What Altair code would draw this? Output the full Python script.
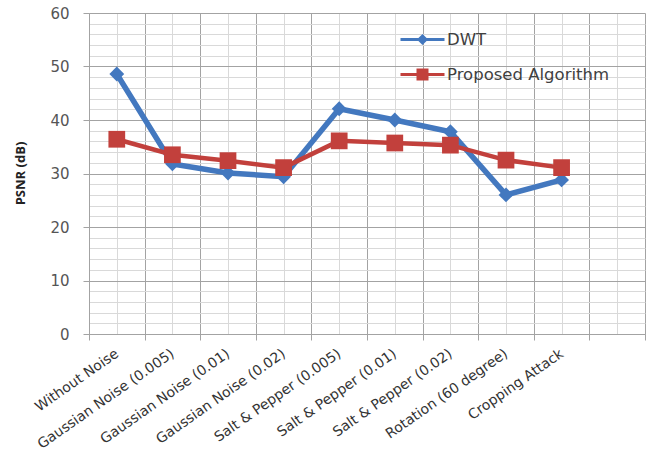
import json
import altair as alt
import pandas as pd

categories = [
    "Without Noise",
    "Gaussian Noise (0.005)",
    "Gaussian Noise (0.01)",
    "Gaussian Noise (0.02)",
    "Salt & Pepper (0.005)",
    "Salt & Pepper (0.01)",
    "Salt & Pepper (0.02)",
    "Rotation (60 degree)",
    "Cropping Attack",
]
dwt = [48.6, 31.8, 30.1, 29.4, 42.1, 40.0, 37.8, 26.0, 28.8]
proposed = [36.4, 33.5, 32.4, 31.1, 36.1, 35.7, 35.3, 32.5, 31.1]
series_names = ["DWT", "Proposed Algorithm"]
series_colors = ["#4378BF", "#C2403C"]
y_ticks = list(range(0, 61, 2))
x_ticks = [i * 0.5 for i in range(21)]

pos = [i + 0.5 for i in range(len(categories))]
df = pd.DataFrame({
    "pos": pos * 2,
    "cat": categories * 2,
    "value": dwt + proposed,
    "series": [series_names[0]] * len(dwt) + [series_names[1]] * len(proposed),
})

names_js = json.dumps(categories)

x_axis = alt.Axis(
    values=x_ticks,
    tickCount=200,
    title=None,
    grid=True,
    gridColor={"condition": {"test": "datum.value % 1 === 0", "value": "#a3a3a3"}, "value": "#d9d9d9"},
    gridWidth=1,
    tickOpacity={"condition": {"test": "datum.value % 1 === 0", "value": 1}, "value": 0},
    tickSize=6,
    tickColor="#a3a3a3",
    domainColor="#a3a3a3",
    labelExpr=f"datum.value % 1 === 0 ? '' : {names_js}[floor(datum.value)]",
    labelAngle=-35,
    labelAlign="right",
    labelBaseline="middle",
    labelPadding=12,
    labelOverlap=False,
    labelBound=False,
    labelFlush=False,
    labelLimit=400,
    labelFont="DejaVu Sans",
    labelFontSize=14,
    labelColor="#333333",
)
y_axis = alt.Axis(
    values=y_ticks,
    tickCount=200,
    title="PSNR (dB)",
    titleFont="Open Sans",
    titleFontWeight="bold",
    titleFontSize=13,
    titleColor="#222222",
    titleAngle=-90,
    titleX=-69,
    titleY=160,
    titleAlign="center",
    titleBaseline="middle",
    grid=True,
    gridColor={"condition": {"test": "datum.value % 10 === 0", "value": "#a3a3a3"}, "value": "#d9d9d9"},
    gridWidth=1,
    tickOpacity={"condition": {"test": "datum.value % 10 === 0", "value": 1}, "value": 0},
    tickSize=6,
    tickColor="#a3a3a3",
    domainColor="#a3a3a3",
    labelExpr="datum.value % 10 === 0 ? datum.value : ''",
    labelPadding=14,
    labelFont="DejaVu Sans",
    labelFontSize=15,
    labelColor="#555555",
    labelOverlap=False,
)

x_enc = alt.X("pos:Q", scale=alt.Scale(domain=[0, 10], nice=False, zero=False), axis=x_axis)
y_enc = alt.Y("value:Q", scale=alt.Scale(domain=[0, 60], nice=False), axis=y_axis)

base = alt.Chart(df)

dwt_line = base.transform_filter(alt.datum.series == series_names[0]).mark_line(
    color=series_colors[0], strokeWidth=5.5
).encode(x=x_enc, y=y_enc)
dwt_pts = base.transform_filter(alt.datum.series == series_names[0]).mark_point(
    color=series_colors[0], filled=True, opacity=1, shape="diamond", size=220
).encode(x="pos:Q", y="value:Q")
pr_line = base.transform_filter(alt.datum.series == series_names[1]).mark_line(
    color=series_colors[1], strokeWidth=4.5
).encode(x="pos:Q", y="value:Q")
pr_pts = base.transform_filter(alt.datum.series == series_names[1]).mark_point(
    color=series_colors[1], filled=True, opacity=1, shape="square", size=280
).encode(x="pos:Q", y="value:Q")

leg_paths = [
    "M-2.2,0H2.2M0,-0.35L0.35,0L0,0.35L-0.35,0Z",
    "M-2.2,0H2.2M-0.45,-0.45H0.45V0.45H-0.45Z",
]
legend = alt.Legend(
    title=None,
    orient="none",
    legendX=322,
    legendY=15,
    padding=0,
    symbolSize=400,
    symbolStrokeWidth=3,
    symbolOpacity=1,
    labelOffset=13,
    rowPadding=14,
    labelLimit=400,
    labelFont="DejaVu Sans",
    labelFontSize=16.5,
    labelColor="#404040",
)
leg_layer = base.transform_filter(alt.datum.pos == pos[0]).mark_point(
    filled=True, opacity=0
).encode(
    x="pos:Q",
    y="value:Q",
    fill=alt.Fill("series:N", scale=alt.Scale(domain=series_names, range=series_colors), legend=legend),
    stroke=alt.Stroke("series:N", scale=alt.Scale(domain=series_names, range=series_colors), legend=legend),
    shape=alt.Shape("series:N", scale=alt.Scale(domain=series_names, range=leg_paths), legend=legend),
)

chart = alt.layer(dwt_line, dwt_pts, pr_line, pr_pts, leg_layer).properties(
    width=556,
    height=321,
    autosize=alt.AutoSizeParams(type="none"),
    padding={"left": 89, "top": 13, "right": 5, "bottom": 121},
    background="white",
).configure_view(stroke=None)

chart.save("out.html", embed_options={"renderer": "svg", "actions": False})
